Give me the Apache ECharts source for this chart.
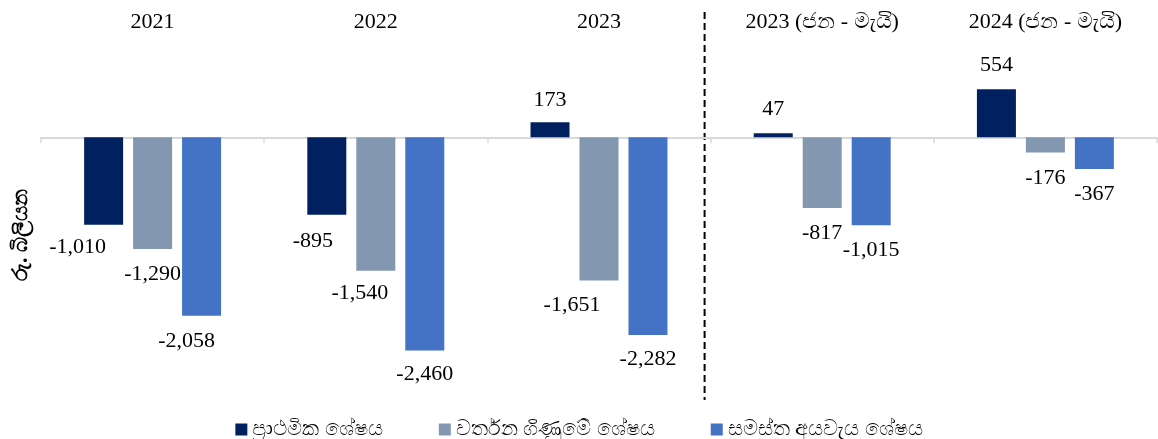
<!DOCTYPE html>
<html>
<head>
<meta charset="utf-8">
<script src="https://cdn.jsdelivr.net/npm/echarts@6/dist/echarts.min.js"></script>
<style>
html,body{margin:0;padding:0;background:#fff;}
#chart{width:1158px;height:439px;}
</style>
</head>
<body>
<div id="chart"></div>
<script>
// ---- data ----
const categories = ['2021', '2022', '2023', '2023 (ජන - මැයි)', '2024 (ජන - මැයි)'];
const seriesNames = ['ප්‍රාථමික ශේෂය', 'වර්තන ගිණුමේ ශේෂය', 'සමස්ත අයවැය ශේෂය'];
const primaryBalance = [-1010, -895, 173, 47, 554];
const currentAccountBalance = [-1290, -1540, -1651, -817, -176];
const overallBalance = [-2058, -2460, -2282, -1015, -367];
const yAxisTitle = 'රු. බිලියන';

// ---- layout / style (not data) ----
const colors = ['#002060', '#8497B0', '#4472C4'];
const labelShift = [
  [[-26, -2], [-14, 2], [0, -2], [0, 0], [0, 0]],
  [[0, 1], [-16, -2], [-27, 1], [0, 1], [0, 2]],
  [[-15, 2], [0, 0], [0, 0], [0, 1], [0, 1]]
];
const serif = '"Liberation Serif", "Times New Roman", serif';

const valuesList = [primaryBalance, currentAccountBalance, overallBalance];

function buildItems(vals, si) {
  return vals.map((v, i) => ({
    value: v,
    label: {
      position: v >= 0 ? 'top' : 'bottom',
      offset: [labelShift[si][i][0], v >= 0 ? -labelShift[si][i][1] : labelShift[si][i][1]]
    }
  }));
}

const chart = echarts.init(document.getElementById('chart'), null, {renderer: 'canvas'});

const series = valuesList.map((vals, si) => ({
  name: seriesNames[si],
  type: 'bar',
  xAxisIndex: 0,
  yAxisIndex: 0,
  barWidth: 39,
  barGap: '25.6%',
  itemStyle: {color: colors[si]},
  label: {
    show: true,
    distance: 13,
    color: '#000',
    fontFamily: serif,
    fontSize: 22,
    formatter: p => p.value.toLocaleString('en-US')
  },
  emphasis: {disabled: true},
  data: buildItems(vals, si)
}));

chart.setOption({
  animation: false,
  backgroundColor: '#fff',
  grid: {left: 41, right: 1, top: 11.6, bottom: 72, containLabel: false},
  legend: {
    data: seriesNames,
    left: 'center',
    top: 414,
    icon: 'rect',
    itemWidth: 12,
    itemHeight: 12,
    itemGap: 56,
    textStyle: {fontSize: 21, color: '#000', fontFamily: '"Noto Sans", sans-serif'}
  },
  xAxis: [
    {
      type: 'category',
      data: categories,
      axisLine: {onZero: true, lineStyle: {color: '#d9d9d9', width: 2}},
      axisTick: {show: true, length: 6, inside: false, lineStyle: {color: '#d9d9d9', width: 1.5}},
      axisLabel: {show: false},
      splitLine: {show: false}
    },
    {
      type: 'category',
      data: categories,
      position: 'top',
      axisLine: {show: false},
      axisTick: {show: false},
      axisLabel: {show: true, inside: true, margin: 0, color: '#000', fontSize: 22, fontFamily: serif},
      splitLine: {show: false}
    }
  ],
  yAxis: {
    type: 'value',
    min: -2650,
    max: 1450,
    show: false,
    splitLine: {show: false}
  },
  series: series
});

// decorative separator and axis title
const c2 = chart.convertToPixel({xAxisIndex: 0}, categories[2]);
const c3 = chart.convertToPixel({xAxisIndex: 0}, categories[3]);
const sepX = (c2 + c3) / 2 - 6;
chart.setOption({
  graphic: [
    {
      type: 'line',
      shape: {x1: sepX, y1: 12, x2: sepX, y2: 400},
      style: {stroke: '#000', lineWidth: 2, lineDash: [7, 4]},
      silent: true
    },
    {
      type: 'text',
      x: 21,
      y: 235,
      rotation: Math.PI / 2,
      style: {
        text: yAxisTitle,
        fill: '#000',
        font: 'bold 21px "Noto Sans", sans-serif',
        align: 'center',
        verticalAlign: 'middle'
      },
      silent: true
    }
  ]
});
</script>
</body>
</html>
